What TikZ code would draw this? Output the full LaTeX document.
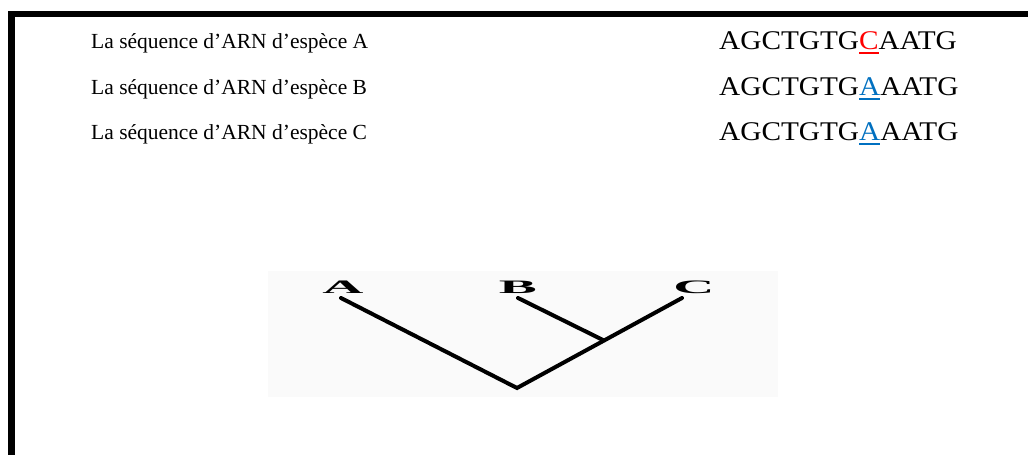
\documentclass[tikz,border=0pt]{standalone}
\usepackage{fontspec}
\usepackage{graphicx}
\setmainfont{Liberation Serif}
\definecolor{mutred}{RGB}{255,0,0}
\definecolor{mutblue}{RGB}{0,112,192}
% coloured letter with a thick underline
\newcommand{\mutbase}[2]{{\color{#1}\setbox0\hbox{#2}\rlap{\rule[-5pt]{\wd0}{1.8pt}}\box0}}
% sequence set slightly wide
\newcommand{\seqtext}[1]{\scalebox{1.085}[1]{#1}}
\tikzset{
  frameline/.style={line width=6.5pt, line join=miter},
  rowlabel/.style={anchor=base west, inner sep=0pt, font=\fontsize{21.5}{25}\selectfont},
  seqlabel/.style={anchor=base west, inner sep=0pt, font=\fontsize{27}{31}\selectfont},
  leaf/.style={inner sep=0pt, font=\fontsize{19}{20}\selectfont\bfseries},
  branch/.style={line width=4pt, line cap=round, line join=miter}
}
\begin{document}
\begin{tikzpicture}[x=1pt,y=-1pt]
\useasboundingbox (0,0) rectangle (1028,455);
\fill[white] (0,0) rectangle (1028,455);
% open frame: left and top edges
\draw[frameline] (11.5,455) -- (11.5,14) -- (1028,14);

% sequences
\node[rowlabel] (la) at (91,48) {La séquence d’ARN d’espèce A};
\node[rowlabel] (lb) at (91,94) {La séquence d’ARN d’espèce B};
\node[rowlabel] (lc) at (91,139) {La séquence d’ARN d’espèce C};
\node[seqlabel] (sa) at (719,49) {\seqtext{AGCTGTG\mutbase{mutred}{C}AATG}};
\node[seqlabel] (sb) at (719,95) {\seqtext{AGCTGTG\mutbase{mutblue}{A}AATG}};
\node[seqlabel] (sc) at (719,140) {\seqtext{AGCTGTG\mutbase{mutblue}{A}AATG}};

% tree
\fill[black!2] (268,271) rectangle (778,397);
\node[leaf] (ta) at (343,287) {\scalebox{3}[1]{A}};
\node[leaf] (tb) at (518,287) {\scalebox{3}[1]{B}};
\node[leaf] (tc) at (694,287) {\scalebox{3}[1]{C}};
\coordinate (root) at (517,388);
\coordinate (bc) at (603,340);
\draw[branch] (341,298) -- (root) -- (682,298);
\draw[branch] (518,298) -- (bc);
\end{tikzpicture}
\end{document}
